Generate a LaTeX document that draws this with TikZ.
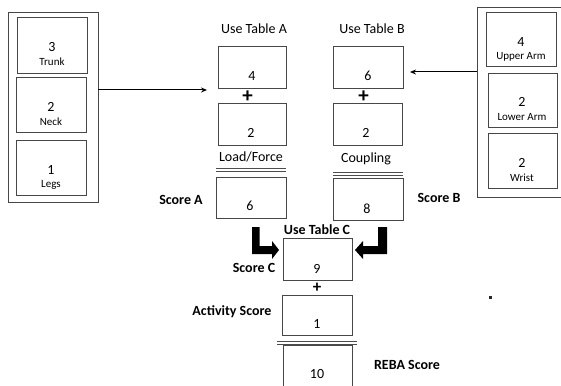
\documentclass[tikz,border=0pt]{standalone}
\usepackage{fontspec}
\setmainfont{Carlito}
\usetikzlibrary{arrows.meta}
\begin{document}
\begin{tikzpicture}[x=1pt,y=-1pt,
  frame/.style={draw=black!72, line width=0.9pt, inner sep=0pt},
  box/.style={frame, minimum width=70pt, minimum height=42pt},
  num/.style={font=\fontsize{14}{16}\selectfont, inner sep=0pt},
  part/.style={font=\fontsize{11}{13}\selectfont, inner sep=0pt},
  head/.style={font=\fontsize{14}{16}\selectfont, inner sep=0pt},
  tag/.style={font=\fontsize{14}{16}\selectfont\bfseries, inner sep=0pt},
  plus/.style={font=\fontsize{21}{23}\selectfont\bfseries, inner sep=0pt},
  link/.style={draw=black, line width=1pt, -{Stealth[length=6pt,width=5pt]}},
  twin/.style={draw=black!70, line width=0.7pt}]
\useasboundingbox (0,0) rectangle (561,385);
\begin{scope}
\clip (0,0) rectangle (561,385);

% ---- body parts for Table A ----
\node[frame, minimum width=90pt, minimum height=190pt] (lo) at (53,107) {};
\node[frame, minimum width=70pt, minimum height=56pt] (trunk) at (52,45) {};
\node[frame, minimum width=70pt, minimum height=55pt] (neck) at (51,104.5) {};
\node[frame, minimum width=70pt, minimum height=55pt] (legs) at (51,167.5) {};
\node[num]  (trunkv) at (52,47) {3};
\node[part] (trunkl) at (52,62) {Trunk};
\node[num]  (neckv) at (51,107) {2};
\node[part] (neckl) at (51,122) {Neck};
\node[num]  (legsv) at (51,170) {1};
\node[part] (legsl) at (51,185) {Legs};

% ---- body parts for Table B ----
\node[frame, minimum width=84pt, minimum height=190pt] (ro) at (519,102) {};
\node[frame, minimum width=70pt, minimum height=54pt] (uarm) at (521,39) {};
\node[frame, minimum width=69pt, minimum height=54pt] (larm) at (522.5,100) {};
\node[frame, minimum width=69pt, minimum height=55pt] (wrist) at (522.5,160.5) {};
\node[num]  (uarmv) at (521,42) {4};
\node[part] (uarml) at (521,57) {Upper Arm};
\node[num]  (larmv) at (522,102) {2};
\node[part] (larml) at (522,117) {Lower Arm};
\node[num]  (wristv) at (522,163) {2};
\node[part] (wristl) at (522,178) {Wrist};

% ---- Table A column ----
\node[head] (ta) at (254,29) {Use Table A};
\node[box, minimum width=68pt] (a1) at (252,67) {};
\node[num] (a1v) at (252,76) {4};
\node[plus] (pa) at (247.5,96.5) {+};
\node[box, minimum width=68pt] (a2) at (252,124) {};
\node[num] (a2v) at (251,133) {2};
\node[head] (load) at (251,157) {Load/Force};
\draw[twin] (216,168) -- (286,168) (216,171) -- (286,171);
\node[box, minimum height=41pt] (sa) at (251,197.5) {};
\node[num] (sav) at (250,206) {6};
\node[tag] (sal) at (181,200) {Score A};

% ---- Table B column ----
\node[head] (tb) at (372,29) {Use Table B};
\node[box] (b1) at (368,67) {};
\node[num] (b1v) at (368,76) {6};
\node[plus] (pb) at (363.5,97) {+};
\node[box, minimum width=69pt] (b2) at (367.5,124) {};
\node[num] (b2v) at (366,133) {2};
\node[head] (coup) at (366,159) {Coupling};
\draw[twin] (333,172) -- (403,172) (333,175) -- (403,175);
\node[box] (sb) at (368,199) {};
\node[num] (sbv) at (367,209) {8};
\node[tag] (sbl) at (439,198) {Score B};

% ---- Table C and final score ----
\node[tag] (tc) at (317,230) {Use Table C};
\node[box, minimum width=69pt] (c) at (317.5,259) {};
\node[num] (cv) at (317,269) {9};
\node[tag] (cl) at (254,268) {Score C};
\node[plus, font=\fontsize{17}{19}\selectfont\bfseries] (pc) at (317,288) {+};
\node[box, minimum height=40pt] (act) at (317,315) {};
\node[num] (actv) at (317,324) {1};
\node[tag] (actl) at (232,312) {Activity Score};
\draw[twin] (277,341) -- (357,341) (277,344) -- (357,344);
\node[box, minimum width=69pt, minimum height=50pt] (reba) at (317.5,370) {};
\node[num] (rebav) at (317,374) {10};
\node[tag] (rebal) at (407,365) {REBA Score};

% ---- connectors ----
\coordinate (ain) at (207,90);
\coordinate (bin) at (410,72);
\draw[link] (lo.east |- ain) -- (ain);
\draw[link] (ro.west |- bin) -- (bin);

% heavy elbow arrows into Table C
\fill[black] (252,227) -- (259.5,227) -- (259.5,246) -- (272,246) -- (272,241)
  -- (279,250) -- (272,259) -- (272,254) -- (252,254) -- cycle;
\fill[black] (387,227) -- (378,227) -- (378,246) -- (363,246) -- (363,241)
  -- (355,250) -- (363,259) -- (363,254) -- (387,254) -- cycle;

% stray mark
\fill[black!85] (489,296) rectangle (492,299);
\end{scope}
\end{tikzpicture}
\end{document}
